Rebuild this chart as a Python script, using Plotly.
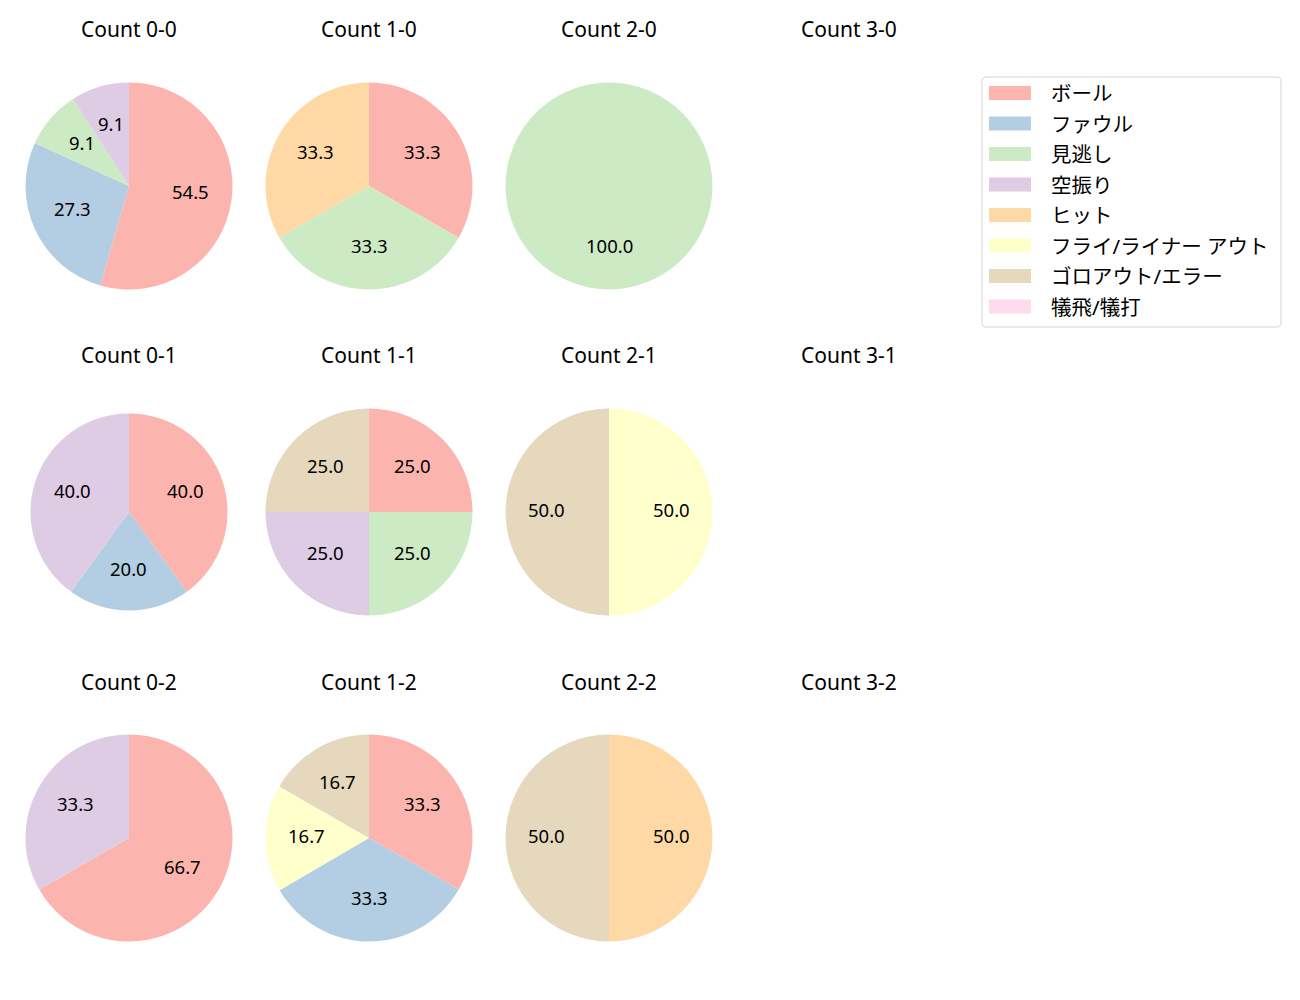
import math
import plotly.graph_objects as go

# categories and colours (Pastel1)
categories = ["ボール", "ファウル", "見逃し", "空振り", "ヒット",
              "フライ/ライナー アウト", "ゴロアウト/エラー", "犠飛/犠打"]
colors = ["#fbb4ae", "#b3cde3", "#ccebc5", "#decbe4", "#fed9a6",
          "#ffffcc", "#e5d8bd", "#fddaec"]

# percentage per category, one list per count (balls-strikes)
count_0_0 = [54.5, 27.3, 9.1, 9.1, 0, 0, 0, 0]
count_1_0 = [33.3, 0, 33.3, 0, 33.3, 0, 0, 0]
count_2_0 = [0, 0, 100.0, 0, 0, 0, 0, 0]
count_3_0 = []
count_0_1 = [40.0, 20.0, 0, 40.0, 0, 0, 0, 0]
count_1_1 = [25.0, 0, 25.0, 25.0, 0, 0, 25.0, 0]
count_2_1 = [0, 0, 0, 0, 0, 50.0, 50.0, 0]
count_3_1 = []
count_0_2 = [66.7, 0, 0, 33.3, 0, 0, 0, 0]
count_1_2 = [33.3, 33.3, 0, 0, 0, 16.7, 16.7, 0]
count_2_2 = [0, 0, 0, 0, 50.0, 0, 50.0, 0]
count_3_2 = []

grid = [
    [("Count 0-0", count_0_0), ("Count 1-0", count_1_0), ("Count 2-0", count_2_0), ("Count 3-0", count_3_0)],
    [("Count 0-1", count_0_1), ("Count 1-1", count_1_1), ("Count 2-1", count_2_1), ("Count 3-1", count_3_1)],
    [("Count 0-2", count_0_2), ("Count 1-2", count_1_2), ("Count 2-2", count_2_2), ("Count 3-2", count_3_2)],
]

W, H = 1300, 1000
OFF = 8  # page body margin
FONT = "Noto Sans, Noto Sans CJK JP"
col_x = [129, 369, 609, 849]
row_y = [186, 512, 838]
title_y = [29, 355, 682]


def px(x):
    return (x - OFF) / W


def py(y):
    return 1 - (y - OFF) / H


fig = go.Figure()
annotations = []
shapes = []

for r, row in enumerate(grid):
    for c, (title, vals) in enumerate(row):
        cx, cy = col_x[c], row_y[r]
        annotations.append(dict(
            text=title, x=px(cx), y=py(title_y[r]), xref="paper", yref="paper",
            xanchor="center", yanchor="middle", showarrow=False,
            font=dict(size=21, color="black", family=FONT)))
        if not vals:
            continue
        rad = 98.5 if title == "Count 0-1" else 103.5
        fig.add_trace(go.Pie(
            labels=categories, values=vals,
            textinfo="none",
            marker=dict(colors=colors, line=dict(width=0)),
            sort=False, direction="clockwise", rotation=0,
            showlegend=False, hoverinfo="label+percent",
            domain=dict(x=[px(cx - rad), px(cx + rad)],
                        y=[py(cy + rad), py(cy - rad)])))
        # percentage labels at 0.6 of the radius, on each slice's bisector
        total = sum(vals)
        cum = 0.0
        for v in vals:
            if v <= 0:
                continue
            ang = math.radians(90 - 360 * (cum + v / 2) / total)
            cum += v
            annotations.append(dict(
                text=f"{v:.1f}", xref="paper", yref="paper",
                x=px(cx + 0.6 * rad * math.cos(ang)),
                y=py(cy - 0.6 * rad * math.sin(ang) - 3),
                xanchor="center", yanchor="middle", showarrow=False,
                font=dict(size=18.5, color="black", family=FONT)))

# legend box drawn by hand to match the original spacing
lx0, ly0, lx1, ly1 = 982, 77, 1281, 327
rr = 4
pts = [("M", lx0 + rr, ly0), ("L", lx1 - rr, ly0), ("Q", lx1, ly0, lx1, ly0 + rr),
       ("L", lx1, ly1 - rr), ("Q", lx1, ly1, lx1 - rr, ly1), ("L", lx0 + rr, ly1),
       ("Q", lx0, ly1, lx0, ly1 - rr), ("L", lx0, ly0 + rr), ("Q", lx0, ly0, lx0 + rr, ly0)]
path = ""
for p in pts:
    cmd, coords = p[0], p[1:]
    xy = [f"{px(coords[k]):.5f},{py(coords[k + 1]):.5f}" for k in range(0, len(coords), 2)]
    path += f"{cmd} {' '.join(xy)} "
path += "Z"

shapes.append(dict(type="path", path=path, xref="paper", yref="paper",
                   line=dict(color="#d6d6d6", width=1), fillcolor="rgba(255,255,255,0.8)"))

for i, (name, col) in enumerate(zip(categories, colors)):
    yc = 93 + i * 30.5
    shapes.append(dict(type="rect", xref="paper", yref="paper",
                       x0=px(989), x1=px(1031), y0=py(yc + 7), y1=py(yc - 7),
                       fillcolor=col, line=dict(width=0)))
    annotations.append(dict(
        text=name, x=px(1049), y=py(yc), xref="paper", yref="paper",
        xanchor="left", yanchor="middle", showarrow=False,
        font=dict(size=20.5, color="black", family=FONT)))

fig.update_layout(
    width=W, height=H,
    margin=dict(l=0, r=0, t=0, b=0),
    paper_bgcolor="white", plot_bgcolor="white",
    annotations=annotations, shapes=shapes,
    font=dict(family=FONT),
)

fig.write_html("out.html")
